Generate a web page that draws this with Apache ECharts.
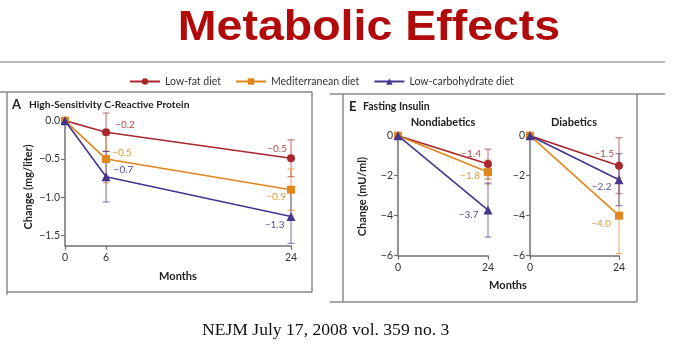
<!DOCTYPE html>
<html><head><meta charset="utf-8">
<script src="https://cdn.jsdelivr.net/npm/echarts@6/dist/echarts.min.js"></script>
<style>html,body{margin:0;padding:0;background:#fff}#c{width:687px;height:355px}</style>
</head><body><div id="c"></div>
<script>
// ---- data ----
const seriesNames = ['Low-fat diet', 'Mediterranean diet', 'Low-carbohydrate diet'];
// Panel A: hs-CRP (mg/liter)
const crpMonths = [0, 6, 24];
const crpSlots = ['0', '', '6', '', '', '', '', '', '', '', '', '24'];
const crpLowFat = [0, -0.15, -0.49];
const crpMed = [0, -0.5, -0.9];
const crpLowCarb = [0, -0.73, -1.25];
const crpLowFatErr = [0, 0.25, 0.24];
const crpMedErr = [0, 0.31, 0.27];
const crpLowCarbErr = [0, 0.33, 0.35];
const crpLowFatLabels = ['', '−0.2', '−0.5'];
const crpMedLabels = ['', '−0.5', '−0.9'];
const crpLowCarbLabels = ['', '−0.7', '−1.3'];
const crpTicks = [0, -0.5, -1.0, -1.5];
// Panel E: fasting insulin (mU/ml)
const insMonths = [0, 24];
const insTicks = [0, -2, -4, -6];
const nonDiabLowFat = [0, -1.42];
const nonDiabMed = [0, -1.82];
const nonDiabLowCarb = [0, -3.72];
const nonDiabLowFatErr = [0, 0.75];
const nonDiabMedErr = [0, 0.6];
const nonDiabLowCarbErr = [0, 1.35];
const nonDiabLowFatLabels = ['', '−1.4'];
const nonDiabMedLabels = ['', '−1.8'];
const nonDiabLowCarbLabels = ['', '−3.7'];
const diabLowFat = [0, -1.5];
const diabMed = [0, -4.0];
const diabLowCarb = [0, -2.2];
const diabLowFatErr = [0, 1.4];
const diabMedErr = [0, 1.9];
const diabLowCarbErr = [0, 1.3];
const diabLowFatLabels = ['', '−1.5'];
const diabMedLabels = ['', '−4.0'];
const diabLowCarbLabels = ['', '−2.2'];

// ---- styles ----
const colors = ['#a8272c', '#e0861c', '#45368c'];
const labelColors = ['#b44a4a', '#dc9a3a', '#5b4c9c'];
const symbols = ['circle', 'rect', 'triangle'];
const symbolSizes = [8, 8, 9];
const FONT = 'Lato';
const axisColor = '#707070';

const chart = echarts.init(document.getElementById('c'));

function xA(m) { return crpSlots.indexOf(String(m)); }

function lineSeries(gi, k, xs, ys, labels, labelPlace) {
  return {
    type: 'line', name: seriesNames[k], xAxisIndex: gi, yAxisIndex: gi,
    z: 3 + k,
    symbol: symbols[k], symbolSize: symbolSizes[k],
    itemStyle: { color: colors[k] },
    lineStyle: { color: colors[k], width: 1.6 },
    data: ys.map((v, i) => {
      const item = { value: [xs[i], v] };
      if (labels[i]) {
        const lp = labelPlace[i];
        item.label = { show: true, formatter: labels[i], position: lp[0], offset: [lp[1], lp[2]],
          color: labelColors[k], fontSize: 10, fontFamily: FONT };
      }
      return item;
    }),
    label: { show: false },
    animation: false
  };
}

function errSeries(gi, k, xs, ys, errs) {
  const data = [];
  ys.forEach((v, i) => { if (errs[i] > 0) data.push([xs[i], v - errs[i], v + errs[i]]); });
  return {
    type: 'custom', xAxisIndex: gi, yAxisIndex: gi, z: 2,
    renderItem: (params, api) => {
      const lo = api.coord([api.value(0), api.value(1)]);
      const hi = api.coord([api.value(0), api.value(2)]);
      const w = 3.5;
      const st = { stroke: colors[k], lineWidth: 1.1, opacity: 0.65 };
      return { type: 'group', children: [
        { type: 'line', shape: { x1: lo[0], y1: lo[1], x2: hi[0], y2: hi[1] }, style: st },
        { type: 'line', shape: { x1: lo[0] - w, y1: lo[1], x2: lo[0] + w, y2: lo[1] }, style: st },
        { type: 'line', shape: { x1: hi[0] - w, y1: hi[1], x2: hi[0] + w, y2: hi[1] }, style: st }
      ]};
    },
    data: data, animation: false, silent: true
  };
}

const axisLineStyle = { show: true, onZero: false, lineStyle: { color: axisColor, width: 1.5 } };
const axisTickStyle = { show: true, length: 4, lineStyle: { color: axisColor, width: 1.2 } };
const labelStyle = { color: '#333', fontSize: 10.5, fontFamily: FONT, margin: 5 };
const minus = s => s.replace('-', '−');

const xAxes = [
  { type: 'category', gridIndex: 0, data: crpSlots, boundaryGap: false,
    axisLine: axisLineStyle,
    axisTick: Object.assign({}, axisTickStyle, { interval: (i, v) => v !== '' }),
    axisLabel: Object.assign({}, labelStyle, { interval: (i, v) => v !== '', margin: 6 }),
    splitLine: { show: false } },
  { type: 'value', gridIndex: 1, min: 0, max: 24, interval: 24, axisLine: axisLineStyle, axisTick: axisTickStyle,
    axisLabel: Object.assign({}, labelStyle, { margin: 6 }), splitLine: { show: false } },
  { type: 'value', gridIndex: 2, min: 0, max: 24, interval: 24, axisLine: axisLineStyle, axisTick: axisTickStyle,
    axisLabel: Object.assign({}, labelStyle, { margin: 6 }), splitLine: { show: false } }
];
const yAxes = [
  { type: 'value', gridIndex: 0, min: -1.63, max: 0,
    axisLine: axisLineStyle,
    axisTick: Object.assign({}, axisTickStyle, { customValues: crpTicks }),
    axisLabel: Object.assign({}, labelStyle, { customValues: crpTicks, formatter: v => minus(v.toFixed(1)) }),
    splitLine: { show: false } },
  { type: 'value', gridIndex: 1, min: -6, max: 0, interval: 2,
    axisLine: axisLineStyle, axisTick: axisTickStyle,
    axisLabel: Object.assign({}, labelStyle, { formatter: v => minus(String(v)) }), splitLine: { show: false } },
  { type: 'value', gridIndex: 2, min: -6, max: 0, interval: 2,
    axisLine: axisLineStyle, axisTick: axisTickStyle,
    axisLabel: Object.assign({}, labelStyle, { formatter: v => minus(String(v)) }), splitLine: { show: false } }
];

const crpX = crpMonths.map(xA);
const placeA = {
  lf: [null, ['right', 0, -7], ['left', 5, -9]],
  med: [null, ['right', -3, -6], ['left', 4, 7]],
  lc: [null, ['right', -2, -7], ['left', 3, 8]]
};
const placeN = {
  lf: [null, ['left', 2, -10]], med: [null, ['left', 1, 4]], lc: [null, ['left', 0, 5]]
};
const placeD = {
  lf: [null, ['left', 4, -12]], med: [null, ['left', 1, 8]], lc: [null, ['left', 2, 7]]
};

const series = [
  errSeries(0, 0, crpX, crpLowFat, crpLowFatErr),
  errSeries(0, 1, crpX, crpMed, crpMedErr),
  errSeries(0, 2, crpX, crpLowCarb, crpLowCarbErr),
  errSeries(1, 0, insMonths, nonDiabLowFat, nonDiabLowFatErr),
  errSeries(1, 1, insMonths, nonDiabMed, nonDiabMedErr),
  errSeries(1, 2, insMonths, nonDiabLowCarb, nonDiabLowCarbErr),
  errSeries(2, 0, insMonths, diabLowFat, diabLowFatErr),
  errSeries(2, 1, insMonths, diabMed, diabMedErr),
  errSeries(2, 2, insMonths, diabLowCarb, diabLowCarbErr),
  lineSeries(0, 0, crpX, crpLowFat, crpLowFatLabels, placeA.lf),
  lineSeries(0, 1, crpX, crpMed, crpMedLabels, placeA.med),
  lineSeries(0, 2, crpX, crpLowCarb, crpLowCarbLabels, placeA.lc),
  lineSeries(1, 0, insMonths, nonDiabLowFat, nonDiabLowFatLabels, placeN.lf),
  lineSeries(1, 1, insMonths, nonDiabMed, nonDiabMedLabels, placeN.med),
  lineSeries(1, 2, insMonths, nonDiabLowCarb, nonDiabLowCarbLabels, placeN.lc),
  lineSeries(2, 0, insMonths, diabLowFat, diabLowFatLabels, placeD.lf),
  lineSeries(2, 1, insMonths, diabMed, diabMedLabels, placeD.med),
  lineSeries(2, 2, insMonths, diabLowCarb, diabLowCarbLabels, placeD.lc)
];

const frame = { stroke: '#8a8a8a', lineWidth: 1.5 };
function ln(x1, y1, x2, y2, st) { return { type: 'line', shape: { x1, y1, x2, y2 }, style: Object.assign({}, st || frame), silent: true }; }
function txt(x, y, text, o) {
  return Object.assign({ type: 'text', x, y, silent: true,
    style: Object.assign({ text, fill: '#222', font: 'bold 11px ' + FONT, align: 'left', verticalAlign: 'middle' }, o && o.style || {}) },
    o && o.extra || {});
}

chart.setOption({
  backgroundColor: '#fff',
  animation: false,
  legend: {
    data: seriesNames, left: 124, top: 71, itemWidth: 30, itemHeight: 8, itemGap: 14,
    textStyle: { color: '#333', fontSize: 10.5, fontFamily: FONT }, selectedMode: false
  },
  grid: [
    { left: 65, top: 120.7, width: 226, height: 125 },
    { left: 398, top: 135.7, width: 90, height: 120 },
    { left: 530, top: 135.7, width: 89, height: 120 }
  ],
  xAxis: xAxes,
  yAxis: yAxes,
  series: series,
  graphic: [
    txt(369, 28.5, 'Metabolic Effects', { style: { align: 'center', fill: '#b00a0a', font: 'bold 42px "Liberation Sans", Arial, sans-serif' }, extra: { scaleX: 1.107 } }),
    ln(0, 62, 665, 62, { stroke: '#a0a0a0', lineWidth: 1.5 }),
    // panel A frame
    ln(0, 92, 312, 92), ln(7, 92, 7, 295), ln(7, 292, 312, 292), ln(312, 92, 312, 292),
    // panel E frame
    ln(330, 94, 665, 94), ln(343, 94, 343, 302), ln(330, 302, 637, 302), ln(637, 93, 637, 302),
    txt(12, 105, 'A', { style: { font: 'bold 13px ' + FONT } }),
    txt(29, 105, 'High-Sensitivity C-Reactive Protein', { style: { font: 'bold 10.2px ' + FONT } }),
    txt(178, 276, 'Months', { style: { align: 'center' } }),
    txt(28, 187, 'Change (mg/liter)', { style: { align: 'center' }, extra: { rotation: Math.PI / 2 } }),
    txt(349, 106.7, 'E', { style: { font: 'bold 13px ' + FONT } }),
    txt(363, 106.7, 'Fasting Insulin', { style: { font: 'bold 10.5px ' + FONT } }),
    txt(443, 122.7, 'Nondiabetics', { style: { align: 'center' } }),
    txt(574, 122.7, 'Diabetics', { style: { align: 'center' } }),
    txt(362, 196.7, 'Change (mU/ml)', { style: { align: 'center' }, extra: { rotation: Math.PI / 2 } }),
    txt(508, 285, 'Months', { style: { align: 'center' } }),
    txt(202, 330, 'NEJM July 17, 2008 vol. 359 no. 3', { style: { font: '17.6px "Liberation Serif", "DejaVu Serif", serif', fill: '#111' } })
  ]
});
</script></body></html>
